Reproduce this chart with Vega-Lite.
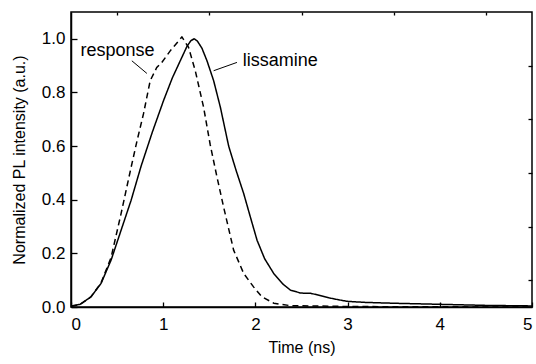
{
  "$schema": "https://vega.github.io/schema/vega-lite/v6.json",
  "width": 461,
  "height": 295,
  "autosize": "none",
  "padding": {"left": 71, "top": 12, "right": 4, "bottom": 57},
  "background": "white",
  "config": {
    "view": {"stroke": "black", "strokeWidth": 1.5},
    "font": "Liberation Sans",
    "axis": {"grid": false, "domainColor": "black", "domainWidth": 1.5, "tickColor": "black", "tickWidth": 1.3, "labelColor": "black", "titleColor": "black", "labelFont": "Liberation Sans", "titleFont": "Liberation Sans", "labelFontSize": 17, "titleFontSize": 16, "titleFontWeight": "normal"}
  },
  "resolve": {"axis": {"x": "independent", "y": "independent"}},
  "datasets": {
    "curves": [
      {"series": "lissamine", "t": 0.0, "v": 0.003},
      {"series": "lissamine", "t": 0.1, "v": 0.01},
      {"series": "lissamine", "t": 0.217, "v": 0.038},
      {"series": "lissamine", "t": 0.326, "v": 0.088},
      {"series": "lissamine", "t": 0.435, "v": 0.175},
      {"series": "lissamine", "t": 0.543, "v": 0.286},
      {"series": "lissamine", "t": 0.652, "v": 0.398},
      {"series": "lissamine", "t": 0.76, "v": 0.525},
      {"series": "lissamine", "t": 0.88, "v": 0.65},
      {"series": "lissamine", "t": 1.004, "v": 0.77},
      {"series": "lissamine", "t": 1.1, "v": 0.855},
      {"series": "lissamine", "t": 1.185, "v": 0.918},
      {"series": "lissamine", "t": 1.258, "v": 0.972},
      {"series": "lissamine", "t": 1.3, "v": 0.993},
      {"series": "lissamine", "t": 1.335, "v": 1.0},
      {"series": "lissamine", "t": 1.37, "v": 0.992},
      {"series": "lissamine", "t": 1.42, "v": 0.965},
      {"series": "lissamine", "t": 1.475, "v": 0.918},
      {"series": "lissamine", "t": 1.547, "v": 0.844},
      {"series": "lissamine", "t": 1.62, "v": 0.745},
      {"series": "lissamine", "t": 1.71, "v": 0.6},
      {"series": "lissamine", "t": 1.79, "v": 0.51},
      {"series": "lissamine", "t": 1.873, "v": 0.423},
      {"series": "lissamine", "t": 1.95, "v": 0.33},
      {"series": "lissamine", "t": 2.018, "v": 0.249},
      {"series": "lissamine", "t": 2.1, "v": 0.18},
      {"series": "lissamine", "t": 2.199, "v": 0.125},
      {"series": "lissamine", "t": 2.3, "v": 0.085},
      {"series": "lissamine", "t": 2.38, "v": 0.063},
      {"series": "lissamine", "t": 2.49, "v": 0.052},
      {"series": "lissamine", "t": 2.6, "v": 0.051},
      {"series": "lissamine", "t": 2.7, "v": 0.043},
      {"series": "lissamine", "t": 2.8, "v": 0.034},
      {"series": "lissamine", "t": 2.9, "v": 0.027},
      {"series": "lissamine", "t": 3.0, "v": 0.021},
      {"series": "lissamine", "t": 3.2, "v": 0.017},
      {"series": "lissamine", "t": 3.5, "v": 0.014},
      {"series": "lissamine", "t": 4.0, "v": 0.01},
      {"series": "lissamine", "t": 4.5, "v": 0.006},
      {"series": "lissamine", "t": 5.0, "v": 0.004},
      {"series": "response", "t": 0.0, "v": 0.003},
      {"series": "response", "t": 0.1, "v": 0.01},
      {"series": "response", "t": 0.217, "v": 0.038},
      {"series": "response", "t": 0.326, "v": 0.09},
      {"series": "response", "t": 0.435, "v": 0.185},
      {"series": "response", "t": 0.543, "v": 0.348},
      {"series": "response", "t": 0.652, "v": 0.521},
      {"series": "response", "t": 0.717, "v": 0.621},
      {"series": "response", "t": 0.786, "v": 0.72},
      {"series": "response", "t": 0.859, "v": 0.844},
      {"series": "response", "t": 0.93, "v": 0.893},
      {"series": "response", "t": 0.985, "v": 0.912},
      {"series": "response", "t": 1.076, "v": 0.955},
      {"series": "response", "t": 1.203, "v": 1.007},
      {"series": "response", "t": 1.275, "v": 0.968},
      {"series": "response", "t": 1.348, "v": 0.881},
      {"series": "response", "t": 1.438, "v": 0.745},
      {"series": "response", "t": 1.51, "v": 0.605},
      {"series": "response", "t": 1.58, "v": 0.49},
      {"series": "response", "t": 1.655, "v": 0.373},
      {"series": "response", "t": 1.764, "v": 0.212},
      {"series": "response", "t": 1.873, "v": 0.125},
      {"series": "response", "t": 1.98, "v": 0.075},
      {"series": "response", "t": 2.07, "v": 0.038},
      {"series": "response", "t": 2.2, "v": 0.014},
      {"series": "response", "t": 2.38, "v": 0.005},
      {"series": "response", "t": 3.0, "v": 0.002},
      {"series": "response", "t": 3.5, "v": 0.001},
      {"series": "response", "t": 5.0, "v": 0.0}
    ],
    "labels": [
      {"text": "response", "t": 0.505, "v": 0.955},
      {"text": "lissamine", "t": 2.27, "v": 0.918}
    ],
    "leaders": [
      {"t": 0.66, "v": 0.918, "t2": 0.823, "v2": 0.871},
      {"t": 1.547, "v": 0.881, "t2": 1.8, "v2": 0.912}
    ]
  },
  "layer": [
    {
      "data": {"name": "curves"},
      "mark": {"type": "line", "color": "black", "strokeWidth": 1.5, "clip": true},
      "encoding": {
        "x": {"field": "t", "type": "quantitative", "scale": {"domain": [0, 5], "nice": false},
          "axis": {"title": "Time (ns)", "values": [0, 1, 2, 3, 4, 5], "format": "d", "tickSize": -5, "labelPadding": 14, "titlePadding": 7}},
        "y": {"field": "v", "type": "quantitative", "scale": {"domain": [0, 1.1], "nice": false},
          "axis": {"title": "Normalized PL intensity (a.u.)", "values": [0, 0.2, 0.4, 0.6, 0.8, 1.0], "format": ".1f", "tickSize": -6, "labelPadding": 12, "titlePadding": 14}},
        "strokeDash": {"field": "series", "type": "nominal", "scale": {"domain": ["lissamine", "response"], "range": [[1, 0], [6, 4]]}, "legend": null}
      }
    },
    {
      "data": {"name": "leaders"},
      "mark": {"type": "rule", "color": "black", "strokeWidth": 1},
      "encoding": {
        "x": {"field": "t", "type": "quantitative", "axis": {"title": null, "values": [0.5, 1.5, 2.5, 3.5, 4.5], "labels": false, "domain": false, "tickSize": -3}},
        "y": {"field": "v", "type": "quantitative", "axis": {"title": null, "values": [0.1, 0.3, 0.5, 0.7, 0.9], "labels": false, "domain": false, "tickSize": -4}},
        "x2": {"field": "t2"},
        "y2": {"field": "v2"}
      }
    },
    {
      "data": {"name": "labels"},
      "mark": {"type": "text", "fontSize": 18, "font": "Liberation Sans", "color": "black", "baseline": "middle", "align": "center"},
      "encoding": {
        "x": {"field": "t", "type": "quantitative", "axis": null},
        "y": {"field": "v", "type": "quantitative", "axis": null},
        "text": {"field": "text"}
      }
    }
  ]
}
